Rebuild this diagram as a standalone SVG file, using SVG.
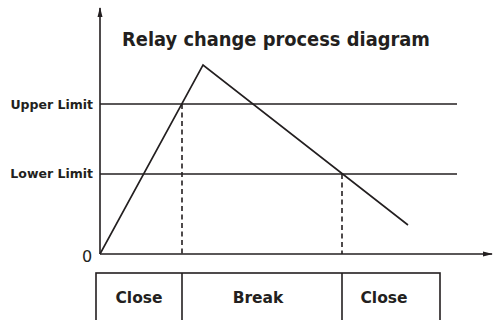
<svg xmlns="http://www.w3.org/2000/svg" width="493" height="320" viewBox="0 0 493 320">
<style>
.ln{stroke:#231f20;stroke-width:1.6;fill:none}
.ds{stroke:#231f20;stroke-width:1.6;fill:none;stroke-dasharray:5,3.5}
.t{font-family:"DejaVu Sans",sans-serif;font-weight:bold;fill:#231f20}
</style>
<defs>
<marker id="ah" markerWidth="10" markerHeight="8" refX="9" refY="4" orient="auto" markerUnits="userSpaceOnUse">
<path d="M0,1.5 L10,4 L0,6.5 Z" fill="#231f20"/>
</marker>
</defs>
<rect width="493" height="320" fill="#fff"/>
<g id="axes">
<line class="ln" x1="100" y1="254" x2="100" y2="8" marker-end="url(#ah)"/>
<line class="ln" x1="100" y1="254" x2="492" y2="254" marker-end="url(#ah)"/>
<text class="t" x="82" y="262" font-size="16" font-weight="normal" style="font-weight:normal">0</text>
</g>
<text id="title" class="t" x="122" y="46" font-size="19" textLength="308" lengthAdjust="spacingAndGlyphs">Relay change process diagram</text>
<g id="upper">
<line class="ln" x1="100" y1="104" x2="457" y2="104"/>
<text class="t" x="93" y="109" font-size="12.5" text-anchor="end">Upper Limit</text>
</g>
<g id="lower">
<line class="ln" x1="100" y1="174" x2="457" y2="174"/>
<text class="t" x="93" y="178" font-size="12.5" text-anchor="end">Lower Limit</text>
</g>
<g id="connectors">
<polyline class="ln" points="100,254 203,65 408,225"/>
<line class="ds" x1="182" y1="104" x2="182" y2="254"/>
<line class="ds" x1="342" y1="174" x2="342" y2="254"/>
</g>
<g id="table">
<rect class="ln" x="96" y="273" width="344" height="50"/>
<line class="ln" x1="182" y1="273" x2="182" y2="320"/>
<line class="ln" x1="342" y1="273" x2="342" y2="320"/>
<text class="t" x="139" y="303" font-size="15.5" text-anchor="middle">Close</text>
<text class="t" x="258" y="303" font-size="15.5" text-anchor="middle">Break</text>
<text class="t" x="384" y="303" font-size="15.5" text-anchor="middle">Close</text>
</g>
</svg>
